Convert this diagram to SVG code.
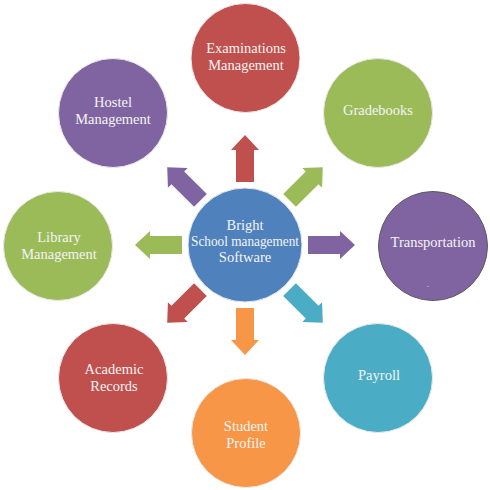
<svg xmlns="http://www.w3.org/2000/svg" width="490" height="490" viewBox="0 0 490 490">
<defs>
<style>
.t{font-family:"Liberation Serif","DejaVu Serif",serif;font-size:14.5px;fill:#F4F4F4;text-anchor:middle}
.n{stroke:#e9e9e9;stroke-width:1}
.red{fill:#C0504D}.green{fill:#9BBB59}.purple{fill:#8064A2}.blue{fill:#4F81BD}.teal{fill:#4BACC6}.orange{fill:#F79646}
</style>
<path id="arr" d="M-9,-63 L-9,-95 L-14,-95 L0,-110 L14,-95 L9,-95 L9,-63 Z"/>
</defs>
<rect width="490" height="490" fill="#fff"/>
<g id="connectors">
<use href="#arr" class="red" transform="translate(245,245)"/>
<use href="#arr" class="green" transform="translate(245,245) rotate(45)"/>
<use href="#arr" class="purple" transform="translate(245,245) rotate(90)"/>
<use href="#arr" class="teal" transform="translate(245,245) rotate(135)"/>
<use href="#arr" class="orange" transform="translate(245,245) rotate(180)"/>
<use href="#arr" class="red" transform="translate(245,245) rotate(225)"/>
<use href="#arr" class="green" transform="translate(245,245) rotate(270)"/>
<use href="#arr" class="purple" transform="translate(245,245) rotate(315)"/>
</g>
<g id="center">
<circle cx="245" cy="245" r="57" class="blue n"/>
<text class="t" x="245" y="230">Bright</text>
<text class="t" x="245" y="246" textLength="108" lengthAdjust="spacingAndGlyphs">School management</text>
<text class="t" x="245" y="262">Software</text>
</g>
<g id="examinations">
<circle cx="245.5" cy="58" r="54.5" class="red n"/>
<text class="t" x="246" y="53">Examinations</text>
<text class="t" x="246" y="70">Management</text>
</g>
<g id="gradebooks">
<circle cx="378" cy="113" r="54.5" class="green n"/>
<text class="t" x="378" y="115">Gradebooks</text>
</g>
<g id="transportation">
<circle cx="433" cy="246" r="54.5" class="purple" stroke="#5a5a5a" stroke-width="1"/>
<text class="t" x="433" y="247">Transportation</text>
<text class="t" x="428" y="287" style="font-size:8px">.</text>
</g>
<g id="payroll">
<circle cx="378" cy="378" r="54.5" class="teal n"/>
<text class="t" x="379" y="380">Payroll</text>
</g>
<g id="student-profile">
<circle cx="246" cy="433" r="54.5" class="orange n"/>
<text class="t" x="246" y="431">Student</text>
<text class="t" x="246" y="448">Profile</text>
</g>
<g id="academic-records">
<circle cx="113" cy="378" r="54.5" class="red n"/>
<text class="t" x="114" y="374">Academic</text>
<text class="t" x="114" y="391">Records</text>
</g>
<g id="library">
<circle cx="58" cy="246" r="54.5" class="green n"/>
<text class="t" x="59" y="242">Library</text>
<text class="t" x="59" y="259">Management</text>
</g>
<g id="hostel">
<circle cx="113" cy="113" r="54.5" class="purple n"/>
<text class="t" x="113" y="107">Hostel</text>
<text class="t" x="113" y="124">Management</text>
</g>
</svg>
